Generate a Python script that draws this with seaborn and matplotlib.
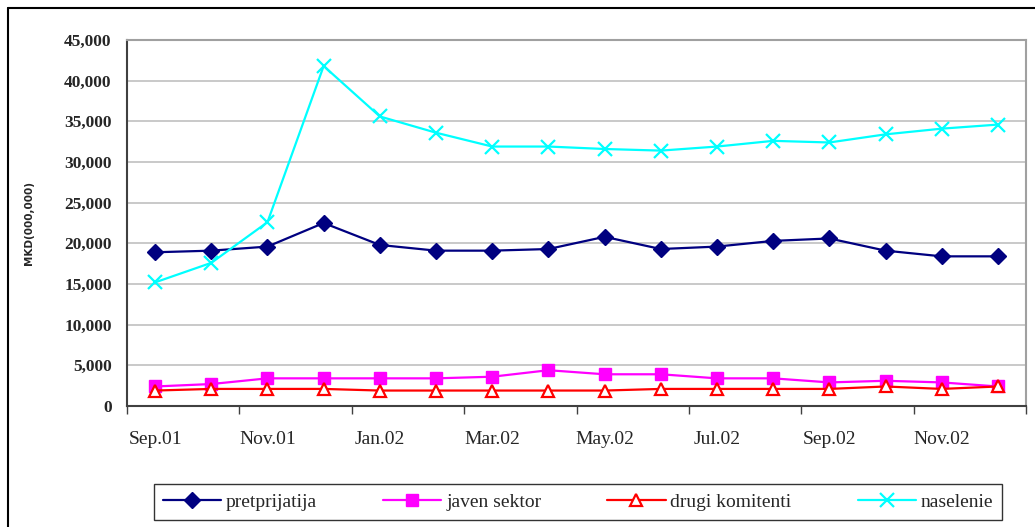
import numpy as np
import pandas as pd
import matplotlib
matplotlib.use('Agg')
import matplotlib.pyplot as plt
import matplotlib.ticker as mticker
from matplotlib.lines import Line2D
import seaborn as sns

sns.set_theme(style="white")
plt.rcParams['font.family'] = ['Liberation Serif', 'DejaVu Serif']

# Data (MKD million), Sep.01 .. Dec.02
months = ['Sep.01', 'Oct.01', 'Nov.01', 'Dec.01', 'Jan.02', 'Feb.02', 'Mar.02', 'Apr.02',
          'May.02', 'Jun.02', 'Jul.02', 'Aug.02', 'Sep.02', 'Oct.02', 'Nov.02', 'Dec.02']
pretprijatija = [18900, 19100, 19600, 22500, 19800, 19100, 19100, 19300,
                 20800, 19300, 19600, 20300, 20600, 19100, 18400, 18400]
javen_sektor = [2400, 2700, 3400, 3400, 3400, 3400, 3600, 4400,
                3900, 3900, 3400, 3400, 2900, 3100, 2900, 2400]
drugi_komitenti = [1900, 2100, 2100, 2100, 1900, 1900, 1900, 1900,
                   1900, 2100, 2100, 2100, 2100, 2400, 2100, 2400]
naselenie = [15200, 17600, 22600, 41800, 35600, 33600, 31900, 31900,
             31600, 31400, 31900, 32600, 32400, 33400, 34100, 34600]

series_names = ['pretprijatija', 'javen sektor', 'drugi komitenti', 'naselenie']
series_values = [pretprijatija, javen_sektor, drugi_komitenti, naselenie]

df = pd.DataFrame({
    'pos': np.tile(np.arange(len(months)), len(series_names)),
    'value': np.concatenate(series_values),
    'series': np.repeat(series_names, len(months)),
})

styles = {
    'pretprijatija': dict(color='#000080', marker='D', markersize=8.5, markerfacecolor='#000080',
                          markeredgecolor='#000080', markeredgewidth=1),
    'javen sektor': dict(color='#FF00FF', marker='s', markersize=9, markerfacecolor='#FF00FF',
                         markeredgecolor='#FF00FF', markeredgewidth=1),
    'drugi komitenti': dict(color='#FF0000', marker='^', markersize=8.5, markerfacecolor='white',
                            markeredgecolor='#FF0000', markeredgewidth=1.6),
    'naselenie': dict(color='#00FFFF', marker='x', markersize=9.5, markerfacecolor='#00FFFF',
                      markeredgecolor='#00FFFF', markeredgewidth=1.6),
}

fig = plt.figure(figsize=(10.35, 5.27), dpi=100)
W, H = 1035, 527
ax = fig.add_axes([127 / W, 1 - 406 / H, (1026 - 127) / W, (406 - 40) / H])

for name in series_names:
    sub = df[df['series'] == name]
    sns.lineplot(data=sub, x='pos', y='value', ax=ax, linewidth=1.6, label=name,
                 **styles[name])

ax.set_xlim(-0.5, len(months) - 0.5)
ax.set_ylim(0, 45000)

# y axis
ax.yaxis.set_major_locator(mticker.MultipleLocator(5000))
ax.yaxis.set_major_formatter(mticker.FuncFormatter(lambda v, p: f'{int(v):,}'))
ax.grid(axis='y', color='#c0c0c0', linewidth=1.2)
ax.grid(axis='x', visible=False)
ax.set_axisbelow(True)
for lab in ax.get_yticklabels():
    lab.set_fontweight('bold')
ax.tick_params(axis='y', which='major', direction='out', length=5, width=1,
               color='#404040', labelsize=12.5, pad=6)
ax.set_ylabel('MKD(000,000)', family='DejaVu Sans', fontsize=7.5, fontweight='bold')
ax.yaxis.set_label_coords(-93 / (1026 - 127), 0.5)

# x axis: tick marks at category boundaries, labels every two months
ax.xaxis.set_major_locator(mticker.FixedLocator(np.arange(-0.5, len(months), 2)))
ax.xaxis.set_major_formatter(mticker.NullFormatter())
ax.xaxis.set_minor_locator(mticker.FixedLocator(np.arange(0, len(months), 2)))
ax.xaxis.set_minor_formatter(mticker.FixedFormatter(months[::2]))
ax.tick_params(axis='x', which='major', direction='out', length=6, width=1,
               color='#404040', bottom=True)
ax.tick_params(axis='x', which='minor', length=0, labelsize=14, pad=18)
ax.set_xlabel('')

for side in ['left', 'bottom']:
    ax.spines[side].set_color('#404040')
    ax.spines[side].set_linewidth(1.5)
for side in ['top', 'right']:
    ax.spines[side].set_color('#a0a0a0')
    ax.spines[side].set_linewidth(1.5)

# legend
ax.get_legend().remove()
handles = [Line2D([], [], linewidth=1.6, **styles[n]) for n in series_names]
leg = fig.legend(handles, series_names, loc='center', ncol=4, mode='expand',
                 bbox_to_anchor=(154 / W, 1 - 524 / H, (1002 - 154) / W, 44 / H),
                 frameon=True, fancybox=False, edgecolor='black', fontsize=14,
                 handlelength=3.0, handletextpad=0.25, borderpad=0.45,
                 borderaxespad=0)
leg.get_frame().set_linewidth(1.0)

# outer chart border (left and top visible)
fig.add_artist(Line2D([7.5 / W, 7.5 / W], [0, 1 - 8 / H], color='black', linewidth=1.5,
                      transform=fig.transFigure))
fig.add_artist(Line2D([7.5 / W, 1], [1 - 8 / H, 1 - 8 / H], color='black', linewidth=1.5,
                      transform=fig.transFigure))

fig.savefig('out.png', dpi=100)
